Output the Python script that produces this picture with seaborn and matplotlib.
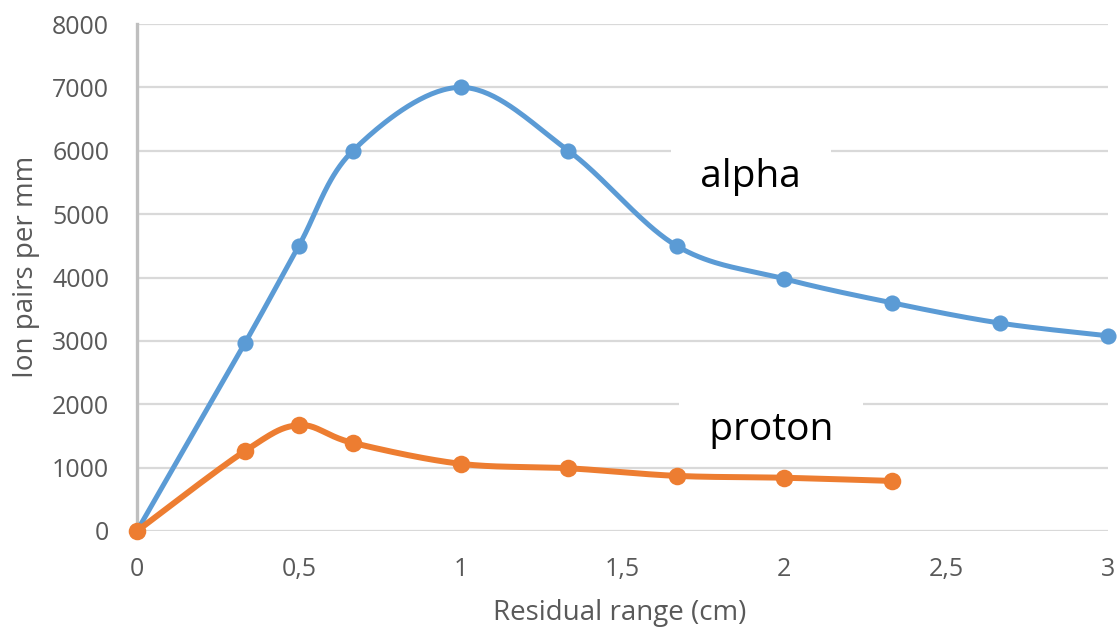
import numpy as np
import pandas as pd
import matplotlib
matplotlib.use("Agg")
import matplotlib.pyplot as plt
import seaborn as sns

# ---- data ----
alpha_range_cm = [0, 0.333, 0.5, 0.667, 1.0, 1.333, 1.667, 2.0, 2.333, 2.667, 3.0]
alpha_ion_pairs = [0, 2960, 4500, 6000, 7000, 6000, 4500, 3980, 3600, 3280, 3080]
proton_range_cm = [0, 0.333, 0.5, 0.667, 1.0, 1.333, 1.667, 2.0, 2.333]
proton_ion_pairs = [0, 1260, 1670, 1390, 1060, 990, 870, 840, 790]
x_ticks = [0, 0.5, 1, 1.5, 2, 2.5, 3]
x_tick_labels = ["0", "0,5", "1", "1,5", "2", "2,5", "3"]
y_ticks = [0, 1000, 2000, 3000, 4000, 5000, 6000, 7000, 8000]
series_names = ["alpha", "proton"]

BLUE = "#5B9BD5"
ORANGE = "#ED7D31"
GREY_TXT = "#595959"

sns.set_theme(style="white")
plt.rcParams["font.family"] = ["Open Sans", "DejaVu Sans"]

fig = plt.figure(figsize=(11.17, 6.32), dpi=100)
ax = fig.add_axes([137 / 1117, 1 - 531 / 632, (1108 - 137) / 1117, (531 - 24) / 632])
ax.set_xlim(0, 3)
ax.set_ylim(0, 8000)


def smooth(ax, xs, ys, n=40):
    """Excel-style smoothed line (Catmull-Rom Bezier) computed in display space."""
    pts = ax.transData.transform(np.column_stack([xs, ys]))
    P = np.vstack([pts[0], pts, pts[-1]])
    out = []
    t = np.linspace(0, 1, n)[:, None]
    for i in range(1, len(P) - 2):
        p0, p1, p2, p3 = P[i - 1], P[i], P[i + 1], P[i + 2]
        c1 = p1 + (p2 - p0) / 6
        c2 = p2 - (p3 - p1) / 6
        seg = ((1 - t) ** 3) * p1 + 3 * ((1 - t) ** 2) * t * c1 + 3 * (1 - t) * t ** 2 * c2 + t ** 3 * p2
        out.append(seg if i == 1 else seg[1:])
    out = np.vstack(out)
    d = ax.transData.inverted().transform(out)
    return d[:, 0], d[:, 1]


for xs, ys, col, lw, ms in [(alpha_range_cm, alpha_ion_pairs, BLUE, 3.6, 135),
                            (proton_range_cm, proton_ion_pairs, ORANGE, 4.3, 160)]:
    sx, sy = smooth(ax, xs, ys)
    sns.lineplot(x=sx, y=sy, ax=ax, color=col, linewidth=lw, sort=False,
                 estimator=None, zorder=4, clip_on=False)
    sns.scatterplot(x=xs, y=ys, ax=ax, color=col, s=ms, linewidth=0,
                    zorder=5, clip_on=False)

ax.set_xlim(0, 3)
ax.set_ylim(0, 8000)

# grid / spines
ax.set_yticks(y_ticks)
ax.set_xticks(x_ticks)
ax.set_xticklabels(x_tick_labels)
ax.yaxis.grid(True, color="#D9D9D9", linewidth=1.6, zorder=0)
ax.xaxis.grid(False)
ax.set_axisbelow(True)
for s in ["top", "right", "bottom"]:
    ax.spines[s].set_visible(False)
ax.spines["left"].set_color("#BFBFBF")
ax.spines["left"].set_linewidth(2.4)
ax.spines["left"].set_zorder(1)
ax.tick_params(axis="both", length=0, colors=GREY_TXT, labelsize=18)
ax.tick_params(axis="y", pad=20)
ax.tick_params(axis="x", pad=19)

ax.set_xlabel("Residual range (cm)", color=GREY_TXT, fontsize=20)
ax.set_ylabel("Ion pairs per mm", color=GREY_TXT, fontsize=20)
ax.xaxis.set_label_coords(0.497, -0.135)
ax.yaxis.set_label_coords(-0.1, 0.52)

# series labels with white boxes
label_pos = {"alpha": (1.897, 5590), "proton": (1.96, 1590)}
for name in series_names:
    lx, ly = label_pos[name]
    ax.text(lx, ly, "  " + name + "  ", fontsize=28, color="black", ha="center", va="center",
            zorder=3, bbox=dict(boxstyle="square,pad=0.25", facecolor="white", edgecolor="none"))

fig.savefig("out.png", dpi=100, facecolor="white")
